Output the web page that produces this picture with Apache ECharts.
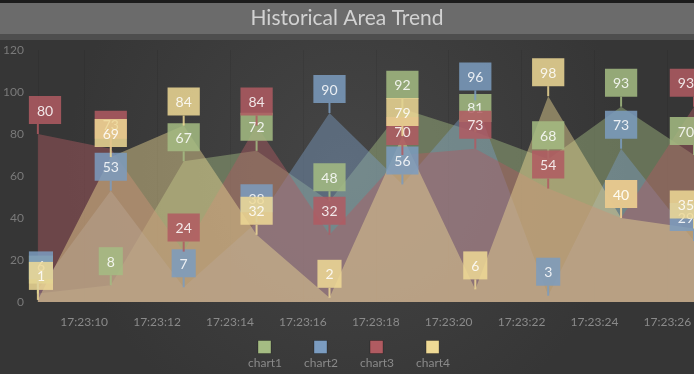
<!DOCTYPE html>
<html>
<head>
<meta charset="utf-8">
<script src="https://cdn.jsdelivr.net/npm/echarts@6/dist/echarts.min.js"></script>
<style>
html,body{margin:0;padding:0;background:#3f3f3f;}
#chart{width:694px;height:374px;}
</style>
</head>
<body>
<div id="chart"></div>
<script>
// ---- data ----
const titleText = 'Historical Area Trend';
const times = ['17:23:08.73','17:23:10.73','17:23:12.73','17:23:14.73','17:23:16.73',
               '17:23:18.73','17:23:20.73','17:23:22.73','17:23:24.73','17:23:26.73'];
const seriesNames = ['chart1', 'chart2', 'chart3', 'chart4'];
const chart1 = [4, 8, 67, 72, 48, 92, 81, 68, 93, 70];
const chart2 = [6, 53, 7, 38, 90, 56, 96, 3, 73, 29];
const chart3 = [80, 73, 24, 84, 32, 70, 73, 54, 40, 93];
const chart4 = [1, 69, 84, 32, 2, 79, 6, 98, 40, 35];
const yTicks = [0, 20, 40, 60, 80, 100, 120];

// ---- styling ----
const colors = ['#a5bc83', '#7b9cc0', '#b05b61', '#eed995'];
const allValues = [chart1, chart2, chart3, chart4];

function toSec(t) { return parseFloat(t.split(':')[2]); }
const prefix = times[0].split(':').slice(0, 2).join(':') + ':';
const xs = times.map(toSec);

const series = [];
allValues.forEach((vals, s) => {
  series.push({
    name: seriesNames[s],
    type: 'line',
    z: 2,
    showSymbol: false,
    symbol: 'none',
    data: vals.map((v, i) => [xs[i], v]),
    itemStyle: { color: colors[s] },
    lineStyle: { width: 0 },
    areaStyle: { color: colors[s], opacity: 0.45 },
    emphasis: { disabled: true },
    silent: true
  });
});
allValues.forEach((vals, s) => {
  series.push({
    name: seriesNames[s],
    type: 'line',
    z: 3 + s,
    clip: false,
    symbol: 'rect',
    symbolSize: [2, 10],
    symbolOffset: [0, -5],
    showAllSymbol: true,
    lineStyle: { width: 0, opacity: 0 },
    itemStyle: { color: colors[s], opacity: 0.85 },
    emphasis: { disabled: true },
    silent: true,
    data: vals.map((v, i) => {
      const item = { value: [xs[i], v] };
      if (i === 0) item.label = { align: 'left', offset: [-9, 0] };
      if (i === vals.length - 1) item.label = { align: 'right', offset: [8, 0] };
      return item;
    }),
    label: {
      show: true,
      position: 'top',
      distance: 0,
      color: '#ffffff',
      fontFamily: 'Lato',
      fontSize: 14,
      lineHeight: 18,
      backgroundColor: colors[s],
      padding: [6, 8, 4, 8],
      formatter: p => String(p.value[1])
    }
  });
});

const chart = echarts.init(document.getElementById('chart'), null, { renderer: 'canvas' });
chart.setOption({
  animation: false,
  backgroundColor: {
    type: 'radial', x: 0.5, y: 0.45, r: 0.75,
    colorStops: [{ offset: 0, color: '#454545' }, { offset: 1, color: '#363636' }]
  },
  graphic: [
    { type: 'rect', z: 0, silent: true, shape: { x: 0, y: 0, width: 694, height: 3 }, style: { fill: '#1c1c1c' } },
    { type: 'rect', z: 0, silent: true, shape: { x: 0, y: 3, width: 694, height: 31 }, style: { fill: '#6b6b6b' } },
    { type: 'rect', z: 0, silent: true, shape: { x: 0, y: 34, width: 694, height: 6 }, style: { fill: '#4e4e4e' } }
  ],
  title: {
    text: titleText,
    left: 'center',
    top: 8,
    padding: 0,
    textStyle: { color: '#d2d2d2', fontFamily: 'Lato', fontSize: 21, fontWeight: 'normal' }
  },
  legend: {
    data: seriesNames,
    left: 248,
    top: 340,
    padding: 0,
    itemWidth: 13,
    itemHeight: 13,
    itemGap: 22,
    icon: 'rect',
    itemStyle: { borderColor: 'rgba(0,0,0,0.25)', borderWidth: 1, opacity: 1 },
    formatter: '{t|{name}}',
    textStyle: {
      color: '#8a8a8a',
      fontFamily: 'Lato',
      fontSize: 12,
      rich: { t: { color: '#8a8a8a', fontFamily: 'Lato', fontSize: 12, padding: [32, 0, 0, -28] } }
    }
  },
  grid: { left: 30, right: -4, top: 50, bottom: 72, containLabel: false },
  xAxis: {
    type: 'value',
    min: xs[0],
    max: xs[xs.length - 1],
    splitNumber: 9,
    minInterval: 2,
    maxInterval: 2,
    axisLine: { show: false },
    axisTick: { show: false },
    splitLine: { show: true, lineStyle: { color: 'rgba(0,0,0,0.07)', width: 1 } },
    axisLabel: {
      showMinLabel: false,
      showMaxLabel: false,
      color: '#8a8a8a',
      fontFamily: 'Lato',
      fontSize: 12,
      margin: 14,
      formatter: v => prefix + String(Math.round(v)).padStart(2, '0')
    }
  },
  yAxis: {
    type: 'value',
    min: yTicks[0],
    max: yTicks[yTicks.length - 1],
    interval: yTicks[1] - yTicks[0],
    axisLine: { show: false },
    axisTick: { show: false },
    splitLine: { show: false },
    axisLabel: { color: '#7a7a7a', fontFamily: 'Lato', fontSize: 12, margin: 14 }
  },
  series: series
});
</script>
</body>
</html>
